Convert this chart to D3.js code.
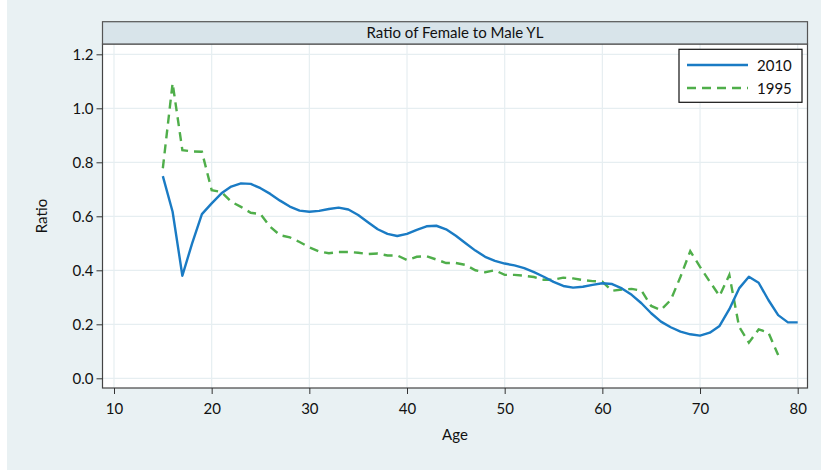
<!DOCTYPE html>
<html>
<head>
<meta charset="utf-8">
<script src="https://cdn.jsdelivr.net/npm/d3@7"></script>
<style>
  html, body { margin: 0; padding: 0; background: #ffffff; }
  svg { display: block; font-family: Lato, "Open Sans", sans-serif; }
</style>
</head>
<body>
<svg id="chart" width="821" height="470"></svg>
<script>
// ---- data ----
const ages2010 = d3.range(15, 81);
const ratio2010 = [0.749, 0.617, 0.38, 0.50, 0.608, 0.648, 0.685, 0.71, 0.722, 0.72,
  0.704, 0.683, 0.658, 0.636, 0.621, 0.617, 0.62, 0.627, 0.632, 0.625,
  0.605, 0.578, 0.552, 0.535, 0.527, 0.535, 0.55, 0.563, 0.565, 0.552,
  0.528, 0.50, 0.473, 0.45, 0.435, 0.425, 0.418, 0.408, 0.393, 0.376,
  0.357, 0.342, 0.336, 0.339, 0.346, 0.352, 0.349, 0.333, 0.309, 0.278,
  0.241, 0.21, 0.189, 0.173, 0.163, 0.158, 0.169, 0.194, 0.256, 0.333,
  0.376, 0.354, 0.29, 0.234, 0.207, 0.207];
const ages1995 = d3.range(15, 79);
const ratio1995 = [0.778, 1.093, 0.845, 0.84, 0.839, 0.697, 0.69, 0.654, 0.635, 0.613,
  0.608, 0.561, 0.53, 0.522, 0.505, 0.485, 0.47, 0.463, 0.468, 0.468,
  0.465, 0.46, 0.462, 0.455, 0.455, 0.438, 0.45, 0.452, 0.44, 0.427,
  0.427, 0.42, 0.40, 0.393, 0.40, 0.383, 0.383, 0.38, 0.375, 0.365,
  0.365, 0.373, 0.37, 0.364, 0.36, 0.358, 0.324, 0.329, 0.331, 0.325,
  0.268, 0.253, 0.29, 0.376, 0.471, 0.413, 0.358, 0.305, 0.383, 0.191,
  0.132, 0.181, 0.17, 0.086];
const xTicks = [10, 20, 30, 40, 50, 60, 70, 80];
const yTicks = [0, 0.2, 0.4, 0.6, 0.8, 1.0, 1.2];
const seriesNames = ["2010", "1995"];
const titleText = "Ratio of Female to Male YL";
const xLabel = "Age";
const yLabel = "Ratio";

// ---- layout ----
const svg = d3.select("#chart");
const frame = { left: 102.5, right: 807.5, top: 44, bottom: 388 };
const x = d3.scaleLinear().domain([10, 80]).range([114, 797.7]);
const y = d3.scaleLinear().domain([0, 1.2]).range([378.3, 54.3]);
const blue = "#1a7bc4", green = "#4fae4a";

// panel background
svg.append("rect").attr("x", 7).attr("y", 0).attr("width", 814).attr("height", 470)
  .attr("fill", "#e9f1f3");

// plot area
svg.append("rect").attr("x", frame.left).attr("y", frame.top)
  .attr("width", frame.right - frame.left).attr("height", frame.bottom - frame.top)
  .attr("fill", "#ffffff");

// grid
const grid = svg.append("g");
grid.selectAll("line.gx").data(xTicks).join("line")
  .attr("x1", d => x(d)).attr("x2", d => x(d))
  .attr("y1", frame.top).attr("y2", frame.bottom)
  .attr("stroke", "#e6eef1").attr("stroke-width", 1.2);
grid.selectAll("line.gy").data(yTicks).join("line")
  .attr("y1", d => y(d)).attr("y2", d => y(d))
  .attr("x1", frame.left).attr("x2", frame.right)
  .attr("stroke", "#e6eef1").attr("stroke-width", 1.2);

// lines
const line = d3.line().x(d => x(d[0])).y(d => y(d[1]));
svg.append("path").datum(d3.zip(ages1995, ratio1995))
  .attr("d", line).attr("fill", "none").attr("stroke", green)
  .attr("stroke-width", 2.4).attr("stroke-dasharray", "9,6");
svg.append("path").datum(d3.zip(ages2010, ratio2010))
  .attr("d", line).attr("fill", "none").attr("stroke", blue)
  .attr("stroke-width", 2.4).attr("stroke-linejoin", "round");

// frame border
svg.append("rect").attr("x", frame.left).attr("y", frame.top)
  .attr("width", frame.right - frame.left).attr("height", frame.bottom - frame.top)
  .attr("fill", "none").attr("stroke", "#444").attr("stroke-width", 1.2);

// title strip
svg.append("rect").attr("x", frame.left).attr("y", 21.7)
  .attr("width", frame.right - frame.left).attr("height", 44 - 21.7)
  .attr("fill", "#d8e4ea").attr("stroke", "#555").attr("stroke-width", 1.2);
svg.append("text").attr("x", (frame.left + frame.right) / 2).attr("y", 38)
  .attr("text-anchor", "middle").attr("font-size", 15).attr("fill", "#111")
  .text(titleText);

// axes
const yAxis = d3.axisLeft(y).tickValues(yTicks).tickFormat(d3.format(".1f"))
  .tickSize(6).tickPadding(3);
const gy = svg.append("g").attr("transform", `translate(${frame.left},0)`).call(yAxis);
gy.select(".domain").remove();
gy.selectAll("line").attr("stroke", "#333");
gy.selectAll("text").attr("font-size", 15).attr("fill", "#111")
  .attr("font-family", "Lato, 'Open Sans', sans-serif");

const xAxis = d3.axisBottom(x).tickValues(xTicks).tickFormat(d3.format("d"))
  .tickSize(6).tickPadding(9);
const gx = svg.append("g").attr("transform", `translate(0,${frame.bottom})`).call(xAxis);
gx.select(".domain").remove();
gx.selectAll("line").attr("stroke", "#333");
gx.selectAll("text").attr("font-size", 15).attr("fill", "#111")
  .attr("font-family", "Lato, 'Open Sans', sans-serif");

// axis titles
svg.append("text").attr("x", (frame.left + frame.right) / 2).attr("y", 440)
  .attr("text-anchor", "middle").attr("font-size", 15).attr("fill", "#111").text(xLabel);
svg.append("text").attr("transform", `translate(47,${(frame.top + frame.bottom) / 2}) rotate(-90)`)
  .attr("text-anchor", "middle").attr("font-size", 15).attr("fill", "#111").text(yLabel);

// legend
const lg = svg.append("g");
lg.append("rect").attr("x", 679).attr("y", 49.3).attr("width", 123).attr("height", 53)
  .attr("fill", "#fff").attr("stroke", "#111").attr("stroke-width", 1.2);
const legendItems = [
  { name: seriesNames[0], color: blue, dash: null, yy: 65 },
  { name: seriesNames[1], color: green, dash: "9,6", yy: 88 }
];
legendItems.forEach(it => {
  lg.append("line").attr("x1", 687).attr("x2", 748).attr("y1", it.yy).attr("y2", it.yy)
    .attr("stroke", it.color).attr("stroke-width", 2.4)
    .attr("stroke-dasharray", it.dash);
  lg.append("text").attr("x", 757).attr("y", it.yy + 5.5).attr("font-size", 15)
    .attr("fill", "#111").text(it.name);
});
</script>
</body>
</html>
